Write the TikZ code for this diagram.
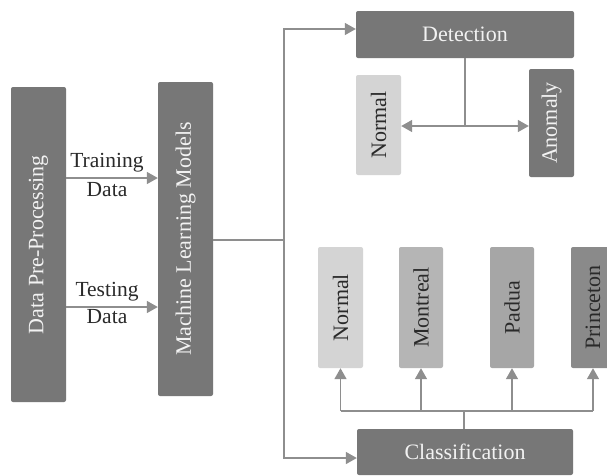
\documentclass[tikz,border=0pt]{standalone}
\usepackage{fontspec}
\setmainfont{Liberation Serif}
\usetikzlibrary{arrows.meta}
\definecolor{boxdark}{HTML}{777777}
\definecolor{boxlight}{HTML}{D4D4D4}
\definecolor{boxmid}{HTML}{B5B5B5}
\definecolor{boxpad}{HTML}{A6A6A6}
\definecolor{boxprin}{HTML}{8A8A8A}
\definecolor{linegray}{HTML}{8E8E8E}
\definecolor{txtlight}{HTML}{F2F2F2}
\definecolor{txtdark}{HTML}{2A2A2A}
\tikzset{
  box/.style={rounded corners=2pt, inner sep=0pt, font=\fontsize{22}{24}\selectfont},
  darkbox/.style={box, fill=boxdark, text=txtlight},
  lightbox/.style={box, text=txtdark},
  conn/.style={draw=linegray, line width=1.5pt},
  arr/.style={conn, -{Triangle[length=11pt,width=12pt]}},
  lbl/.style={font=\fontsize{21.5}{23}\selectfont, text=txtdark, inner sep=0pt}
}
\begin{document}
\begin{tikzpicture}[x=1pt,y=-1pt]
\clip (0,0) rectangle (607,475);
\fill[white] (0,0) rectangle (607,475);
% left column
\node[darkbox, minimum width=55pt, minimum height=315pt] (dpp) at (38.5,244.5) {\rotatebox{90}{Data Pre-Processing}};
\node[darkbox, minimum width=55pt, minimum height=314pt] (ml) at (185.5,239) {\rotatebox{90}{Machine Learning Models}};
% detection
\node[darkbox, minimum width=218pt, minimum height=47pt] (det) at (465,34.5) {Detection};
\node[lightbox, fill=boxlight, minimum width=45pt, minimum height=100pt] (norm1) at (378.5,125) {\rotatebox{90}{Normal}};
\node[darkbox, minimum width=45pt, minimum height=108pt] (anom) at (551.5,123) {\rotatebox{90}{Anomaly}};
% classification
\node[darkbox, minimum width=216pt, minimum height=46pt] (cls) at (465,452) {Classification};
\node[lightbox, fill=boxlight, minimum width=45pt, minimum height=121pt] (norm2) at (340.5,307.5) {\rotatebox{90}{Normal}};
\node[lightbox, fill=boxmid, minimum width=44pt, minimum height=121pt] (mont) at (421,307.5) {\rotatebox{90}{Montreal}};
\node[lightbox, fill=boxpad, minimum width=44pt, minimum height=121pt] (pad) at (512,307.5) {\rotatebox{90}{Padua}};
\node[lightbox, fill=boxprin, minimum width=44pt, minimum height=121pt] (prin) at (593,307.5) {\rotatebox{90}{Princeton}};
% labels
\node[lbl] (tr1) at (107,163) {Training};
\node[lbl] (tr2) at (107,190) {Data};
\node[lbl] (te1) at (107,292) {Testing};
\node[lbl] (te2) at (107,317) {Data};
% coordinates
\coordinate (mlout) at (ml.east |- 0,240);
\coordinate (jx) at (284,240);
\coordinate (jdet) at (284,29);
\coordinate (jcls) at (284,458);
\coordinate (dbr) at (465,126);
\coordinate (cbr) at (464,411);
% connectors
\draw[arr] (dpp.east |- 0,178) -- (ml.west |- 0,178);
\draw[arr] (dpp.east |- 0,307) -- (ml.west |- 0,307);
\draw[conn] (mlout) -- (jx);
\draw[arr] (jx) -- (jdet) -- (det.west |- jdet);
\draw[arr] (jx) -- (jcls) -- (cls.west |- jcls);
\draw[conn] (det.south -| dbr) -- (dbr);
\draw[arr] (dbr) -- (norm1.east |- dbr);
\draw[arr] (dbr) -- (anom.west |- dbr);
\draw[conn] (cls.north -| cbr) -- (cbr);
\draw[conn] (norm2.south |- cbr) -- (prin.south |- cbr);
\draw[arr] (norm2.south |- cbr) -- (norm2.south);
\draw[arr] (mont.south |- cbr) -- (mont.south);
\draw[arr] (pad.south |- cbr) -- (pad.south);
\draw[arr] (prin.south |- cbr) -- (prin.south);
\end{tikzpicture}
\end{document}
